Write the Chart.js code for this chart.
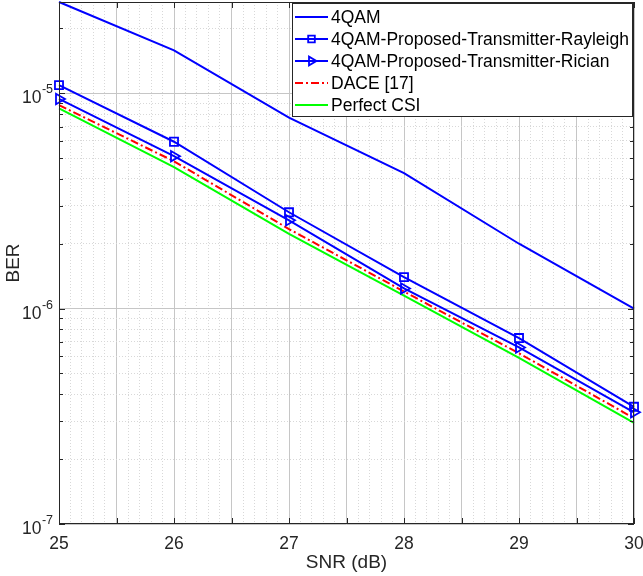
<!DOCTYPE html>
<html>
<head>
<meta charset="utf-8">
<script src="https://cdn.jsdelivr.net/npm/chart.js@4.4.1/dist/chart.umd.min.js"></script>
<style>
  html, body { margin: 0; padding: 0; background: #fff; }
  #wrap { width: 643px; height: 576px; }
</style>
</head>
<body>
<div id="wrap"><canvas id="berChart" width="643" height="576"></canvas></div>
<script>
// data
var snr = [25, 26, 27, 28, 29, 30];
var ber4qam     = [2.65e-5, 1.58e-5, 7.7e-6, 4.25e-6, 2.0e-6, 1.0e-6];
var berRayleigh = [1.09e-5, 5.95e-6, 2.8e-6, 1.4e-6, 7.3e-7, 3.5e-7];
var berRician   = [9.4e-6, 5.1e-6, 2.57e-6, 1.24e-6, 6.6e-7, 3.3e-7];
var berDace     = [8.8e-6, 4.83e-6, 2.34e-6, 1.2e-6, 6.2e-7, 3.1e-7];
var berPerfect  = [8.5e-6, 4.54e-6, 2.22e-6, 1.15e-6, 5.9e-7, 2.95e-7];
var seriesNames = ['4QAM', '4QAM-Proposed-Transmitter-Rayleigh', '4QAM-Proposed-Transmitter-Rician', 'DACE [17]', 'Perfect CSI'];
var xTickLabels = [25, 26, 27, 28, 29, 30];
var yDecades = [-7, -6, -5];

var FONT = 'Liberation Sans, Arial, Helvetica, sans-serif';
var AXIS = '#262626';
var GRID_MAJOR = '#c6c6c6';
var GRID_MINOR = '#d8d8d8';

function pts(ys) {
  return snr.map(function (x, i) { return { x: x, y: ys[i] }; });
}

function isMajorX(v) {
  return Math.abs(v * 2 - Math.round(v * 2)) < 1e-6;
}
function isDecade(v) {
  var l = Math.log10(v);
  return Math.abs(l - Math.round(l)) < 1e-6;
}

// frame, inward ticks, y labels with exponents, legend inside the plot
var decorations = {
  id: 'decorations',
  afterDraw: function (chart) {
    var ctx = chart.ctx, a = chart.chartArea, x = chart.scales.x, y = chart.scales.y;
    ctx.save();
    ctx.strokeStyle = AXIS;
    ctx.lineWidth = 1;
    ctx.strokeRect(a.left + 0.5, a.top + 0.5, a.right - a.left - 1, a.bottom - a.top - 1);

    //tick marks pointing in
    ctx.beginPath();
    x.ticks.forEach(function (t) {
      if (!isMajorX(t.value)) return;
      var px = Math.round(x.getPixelForValue(t.value)) + 0.5;
      ctx.moveTo(px, a.bottom); ctx.lineTo(px, a.bottom - 6);
      ctx.moveTo(px, a.top); ctx.lineTo(px, a.top + 6);
    });
    y.ticks.forEach(function (t) {
      var py = Math.round(y.getPixelForValue(t.value)) + 0.5;
      var len = isDecade(t.value) ? 6 : 4;
      ctx.moveTo(a.left, py); ctx.lineTo(a.left + len, py);
      ctx.moveTo(a.right, py); ctx.lineTo(a.right - len, py);
    });
    ctx.stroke();

    //y labels 10^k
    ctx.fillStyle = AXIS;
    yDecades.forEach(function (k) {
      var py = y.getPixelForValue(Math.pow(10, k));
      var sup = String(k);
      ctx.font = '12.5px ' + FONT;
      var supW = ctx.measureText(sup).width;
      var sx = 53 - supW;
      ctx.textAlign = 'left';
      ctx.textBaseline = 'alphabetic';
      ctx.fillText(sup, sx, py);
      ctx.font = '17.5px ' + FONT;
      ctx.textAlign = 'right';
      ctx.fillText('10', sx - 0.5, py + 10);
    });

    //legend box
    var bx = 292.5, by = 3.5, bw = 340, bh = 113;
    ctx.fillStyle = '#fff';
    ctx.fillRect(bx, by, bw, bh);
    ctx.strokeStyle = AXIS;
    ctx.strokeRect(bx, by, bw, bh);
    chart.data.datasets.forEach(function (ds, i) {
      var cy = 17 + i * 22;
      ctx.save();
      ctx.strokeStyle = ds.borderColor;
      ctx.lineWidth = ds.borderWidth;
      ctx.setLineDash(ds.borderDash || []);
      ctx.beginPath();
      ctx.moveTo(295, cy); ctx.lineTo(328, cy);
      ctx.stroke();
      ctx.setLineDash([]);
      if (ds.pointRadius > 0) {
        ctx.fillStyle = 'rgba(0,0,0,0)';
        ctx.lineWidth = ds.pointBorderWidth;
        Chart.helpers.drawPoint(ctx, {
          pointStyle: ds.pointStyle,
          radius: ds.pointRadius - 1,
          rotation: ds.pointRotation || 0,
          borderWidth: ds.pointBorderWidth
        }, 311.5, cy);
      }
      ctx.restore();
      ctx.fillStyle = '#000';
      ctx.font = '17.5px ' + FONT;
      ctx.textAlign = 'left';
      ctx.textBaseline = 'middle';
      ctx.fillText(ds.label, 331, cy + 1);
    });
    ctx.restore();
  }
};

function makeSet(name, ys, color, extra) {
  var ds = {
    label: name,
    data: pts(ys),
    borderColor: color,
    backgroundColor: color,
    borderWidth: 2,
    pointRadius: 0,
    pointHoverRadius: 0,
    pointBackgroundColor: 'rgba(0,0,0,0)',
    pointBorderColor: color,
    pointBorderWidth: 1.8,
    tension: 0,
    fill: false,
    clip: false
  };
  for (var k in extra) ds[k] = extra[k];
  return ds;
}

new Chart(document.getElementById('berChart'), {
  type: 'line',
  data: {
    datasets: [
      makeSet(seriesNames[0], ber4qam, '#0000ff', {}),
      makeSet(seriesNames[1], berRayleigh, '#0000ff', { pointStyle: 'rect', pointRadius: 5.7 }),
      makeSet(seriesNames[2], berRician, '#0000ff', { pointStyle: 'triangle', pointRadius: 6, pointRotation: 90 }),
      makeSet(seriesNames[3], berDace, '#ff0000', { borderDash: [8, 3, 2, 3] }),
      makeSet(seriesNames[4], berPerfect, '#00ff00', {})
    ]
  },
  options: {
    responsive: false,
    animation: false,
    events: [],
    layout: { autoPadding: false, padding: { top: 2, right: 9, left: 0, bottom: 0 } },
    plugins: { legend: { display: false }, tooltip: { enabled: false } },
    scales: {
      x: {
        type: 'linear',
        min: 25,
        max: 30,
        afterBuildTicks: function (s) {
          var t = [];
          for (var i = 0; i <= 50; i++) t.push({ value: 25 + i / 10 });
          s.ticks = t;
        },
        afterFit: function (s) {
          s.height = 52;
          s.paddingLeft = 0;
          s.paddingRight = 0;
        },
        ticks: {
          autoSkip: false,
          maxRotation: 0,
          padding: 10,
          color: AXIS,
          font: { family: FONT, size: 17.5 },
          callback: function (v) {
            var r = Math.round(v);
            return (Math.abs(v - r) < 1e-6 && xTickLabels.indexOf(r) >= 0) ? String(r) : '';
          }
        },
        grid: {
          drawTicks: false,
          color: function (c) { return c.tick && isMajorX(c.tick.value) ? GRID_MAJOR : GRID_MINOR; },
          lineWidth: 1
        },
        border: {
          display: false,
          dash: function (c) { return c.tick && !isMajorX(c.tick.value) ? [1, 2] : []; }
        },
        title: {
          display: true,
          text: 'SNR (dB)',
          color: AXIS,
          font: { family: FONT, size: 19 },
          padding: { top: 0, bottom: 2 }
        }
      },
      y: {
        type: 'logarithmic',
        min: 1e-7,
        max: 2.65e-5,
        afterBuildTicks: function (s) {
          var t = [];
          for (var k = -7; k <= -5; k++) {
            for (var m = 1; m <= 9; m++) {
              var v = m * Math.pow(10, k);
              if (v >= s.min * 0.999 && v <= s.max) t.push({ value: v });
            }
          }
          s.ticks = t;
        },
        afterFit: function (s) {
          s.width = 59;
          s.paddingTop = 0;
          s.paddingBottom = 0;
        },
        ticks: { display: false },
        grid: {
          drawTicks: false,
          color: function (c) { return c.tick && isDecade(c.tick.value) ? GRID_MAJOR : GRID_MINOR; },
          lineWidth: 1
        },
        border: {
          display: false,
          dash: function (c) { return c.tick && !isDecade(c.tick.value) ? [1, 2] : []; }
        },
        title: {
          display: true,
          text: 'BER',
          color: AXIS,
          font: { family: FONT, size: 19 },
          padding: { top: 2, bottom: 0 }
        }
      }
    }
  },
  plugins: [decorations]
});
</script>
</body>
</html>
